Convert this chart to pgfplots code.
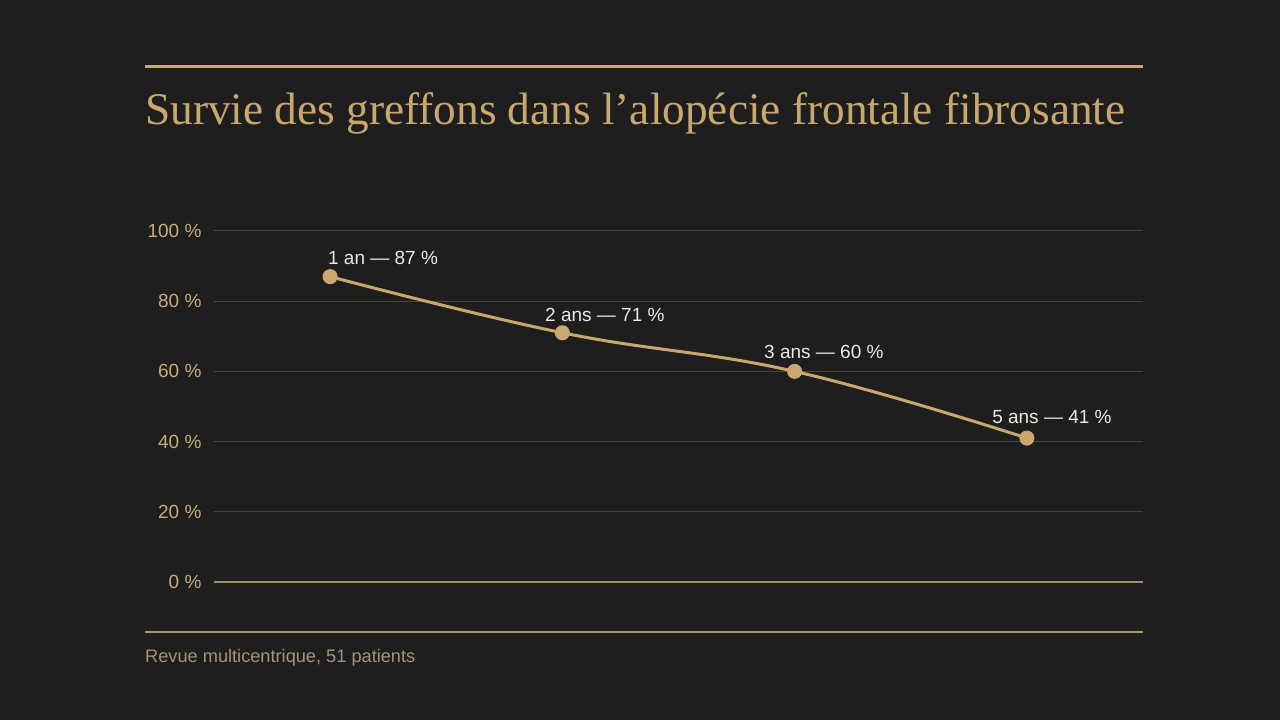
\documentclass[border=0pt]{standalone}
\usepackage{pgfplots}
\pgfplotsset{compat=1.18}
\usepackage{fontspec}
\setmainfont{Liberation Sans}
\newfontfamily\titlefont{Liberation Serif}

\definecolor{bg}{HTML}{1E1E1E}
\definecolor{gold}{HTML}{C9A86E}
\definecolor{goldtick}{HTML}{C8AD7C}
\definecolor{goldsrc}{HTML}{A89470}
\definecolor{gridc}{HTML}{4C4634}
\definecolor{lbl}{HTML}{EEEAE2}

\begin{document}
\begin{tikzpicture}[x=1pt,y=1pt]
% canvas, 1 px = 1 pt
\fill[bg] (0,0) rectangle (1280,720);
\useasboundingbox (0,0) rectangle (1280,720);

% rules and texts
\draw[gold, line width=3pt] (145,653) -- (1143,653);
\draw[goldsrc, line width=1.5pt] (145,88) -- (1143,88);
\node[anchor=base west, inner sep=0pt, text=gold, font=\titlefont\fontsize{45.3}{50}\selectfont]
  at (145,595) {Survie des greffons dans l’alopécie frontale fibrosante};
\node[anchor=base west, inner sep=0pt, text=goldsrc, font=\fontsize{18.2}{21}\selectfont]
  at (145,57) {Revue multicentrique, 51 patients};

\begin{axis}[
  at={(214pt,138pt)}, anchor=south west,
  scale only axis, width=929pt, height=351pt,
  xmin=0, xmax=4, ymin=0, ymax=100,
  axis line style={draw=none},
  xtick=\empty,
  ytick={0,20,40,60,80,100},
  yticklabels={0 \%,20 \%,40 \%,60 \%,80 \%,100 \%},
  yticklabel style={text=goldtick, font=\fontsize{19}{22}\selectfont, xshift=-9pt},
  major tick length=0pt,
  ymajorgrids=true,
  grid style={gridc, line width=1pt},
  clip=false,
]
\draw[gold!80!bg, line width=1.5pt] (axis cs:0,0) -- (axis cs:4,0);

\addplot[gold, line width=3pt, smooth, tension=0.7,
  mark=*, mark size=6pt, mark options={fill=gold, draw=none}]
  coordinates {(0.5,87) (1.5,71) (2.5,60) (3.5,41)};

\tikzset{lab/.style={text=lbl, font=\fontsize{19}{22}\selectfont, inner sep=0pt}}
\node[lab] at (axis cs:0.728,92.4) {1 an — 87 \%};
\node[lab] at (axis cs:1.683,76.1) {2 ans — 71 \%};
\node[lab] at (axis cs:2.626,65.5) {3 ans — 60 \%};
\node[lab] at (axis cs:3.608,47.0) {5 ans — 41 \%};
\end{axis}
\end{tikzpicture}
\end{document}
